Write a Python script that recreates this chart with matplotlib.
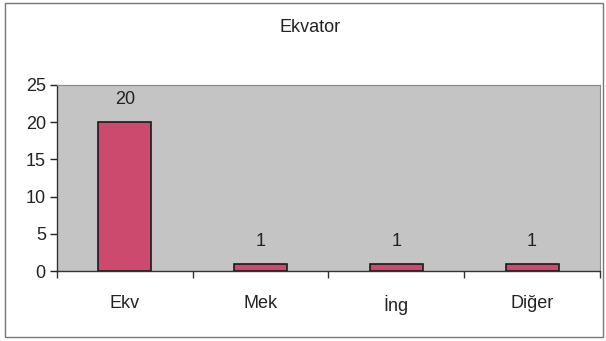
import matplotlib.pyplot as plt
import numpy as np

categories = ['Ekv', 'Mek', 'İng', 'Diğer']
values = [20, 1, 1, 1]
yticks = [0, 5, 10, 15, 20, 25]

plt.rcParams['font.family'] = ['Liberation Sans', 'DejaVu Sans']

fig = plt.figure(figsize=(6.06, 3.41), dpi=100, facecolor='white')
ax = fig.add_axes([0.094, 0.205, 0.896, 0.546])
ax.set_facecolor('#c4c4c4')

x = np.arange(len(categories))
bars = ax.bar(x, values, width=0.39, color='#cc4a6e', edgecolor='#1a1a1a', linewidth=1.2, zorder=3)
for b, v in zip(bars, values):
    ax.text(b.get_x() + b.get_width() / 2, v + 3.0, str(v), ha='center', va='center',
            fontsize=13, color='#222222')

ax.set_xlim(-0.5, len(categories) - 0.5)
ax.set_ylim(0, 25)
ax.set_yticks(yticks)
ax.tick_params(axis='y', labelsize=13, length=5, width=1, colors='#222222', pad=3)

# category ticks sit on the boundaries, labels in the middle
ax.set_xticks(np.arange(len(categories) + 1) - 0.5)
ax.set_xticklabels([])
ax.set_xticks(x, minor=True)
ax.set_xticklabels(categories, minor=True, fontsize=13, color='#222222')
ax.tick_params(axis='x', which='major', length=5, width=1, colors='#333333')
ax.tick_params(axis='x', which='minor', length=0, pad=17)

for s in ['top', 'right']:
    ax.spines[s].set_color('#888888')
    ax.spines[s].set_linewidth(0.8)
for s in ['left', 'bottom']:
    ax.spines[s].set_color('#333333')
    ax.spines[s].set_linewidth(1.0)

fig.text(0.512, 0.918, 'Ekvator', ha='center', va='center', fontsize=13, color='#222222')

# outer chart border
fig.patches.append(plt.Rectangle((0.008, 0.012), 0.987, 0.98, transform=fig.transFigure,
                                 fill=False, edgecolor='#777777', linewidth=1.0))

fig.savefig('out.png', dpi=100, facecolor='white')
